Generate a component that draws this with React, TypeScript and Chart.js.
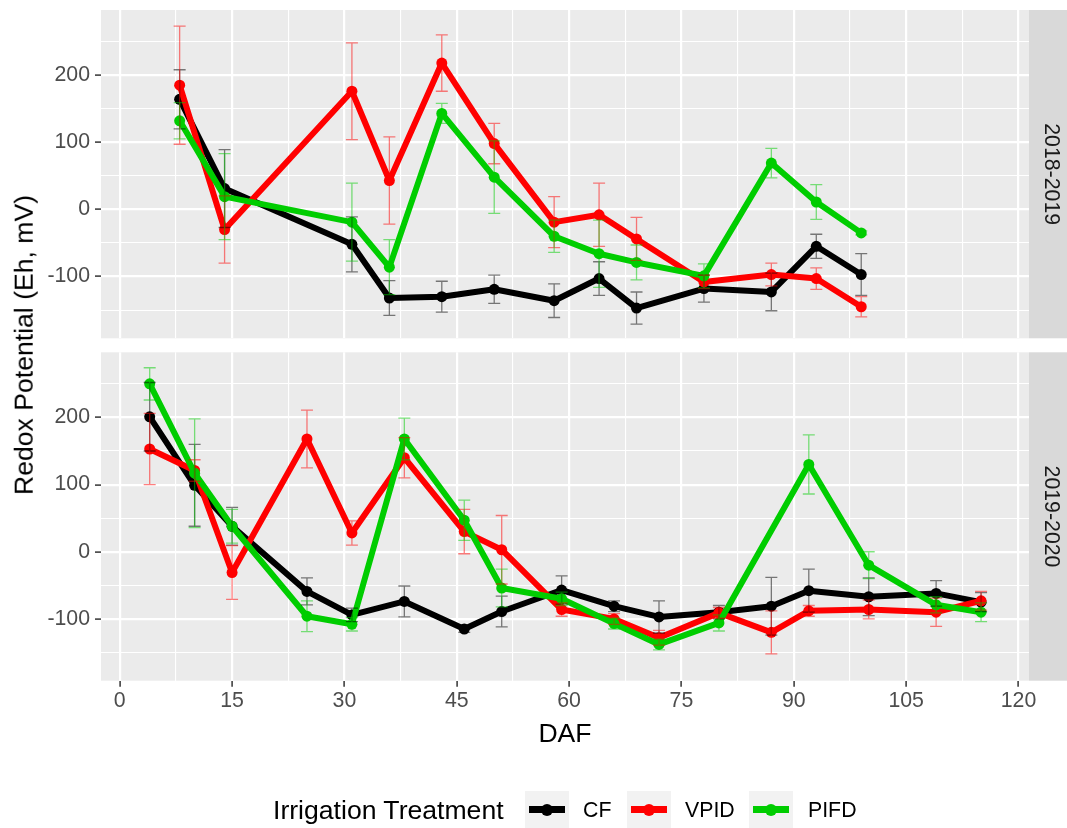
import React, { useEffect, useRef } from "react";
import { Chart, registerables } from "chart.js";

Chart.register(...registerables);

const FONT = "'Liberation Sans', Arial, sans-serif";

const treatments = ["CF", "VPID", "PIFD"];
const treatmentColors = ["#000000", "#FF0000", "#00CD00"];
const seasons = ["2018-2019", "2019-2020"];

// Season 2018-2019
const daf1819 = [8, 14, 31, 36, 43, 50, 58, 64, 69, 78, 87, 93, 99];
const cf1819 = [164, 31, -52, -132, -130, -119, -136, -103, -147, -118, -123, -55, -97];
const cf1819Err = [44, 58, 41, 26, 23, 21, 25, 25, 24, 20, 28, 18, 31];
const vpid1819 = [185, -30, 176, 43, 218, 98, -19, -8, -44, -108, -97, -103, -145];
const vpid1819Err = [88, 50, 72, 65, 42, 30, 38, 47, 32, 10, 17, 16, 15];
const pifd1819 = [132, 19, -19, -86, 143, 48, -40, -66, -79, -99, 69, 11, -35];
const pifd1819Err = [27, 64, 58, 41, 15, 54, 24, 50, 26, 18, 22, 26, 3];

// Season 2019-2020
const daf1920 = [4, 10, 15, 25, 31, 38, 46, 51, 59, 66, 72, 80, 87, 92, 100, 109, 115];
const cf1920 = [201, 99, 38, -59, -94, -74, -115, -89, -57, -81, -97, -90, -81, -58, -67, -62, -75];
const cf1920Err = [51, 61, 28, 20, 10, 23, 5, 23, 21, 8, 24, 10, 43, 32, 28, 19, 14];
const vpid1920 = [153, 121, -31, 168, 28, 140, 30, 3, -86, -100, -128, -91, -120, -88, -86, -90, -73];
const vpid1920Err = [53, 16, 40, 43, 18, 30, 33, 51, 10, 8, 11, 8, 32, 8, 14, 21, 14];
const pifd1920 = [250, 117, 38, -96, -108, 168, 47, -54, -70, -107, -138, -106, null, 130, -20, -79, -90];
const pifd1920Err = [24, 81, 25, 23, 10, 31, 30, 28, 10, 8, 8, 12, null, 44, 20, 12, 14];

const xMajorTicks = [0, 15, 30, 45, 60, 75, 90, 105, 120];
const xMinorTicks = [7.5, 22.5, 37.5, 52.5, 67.5, 82.5, 97.5, 112.5];
const yMajorTicks = [-100, 0, 100, 200];
const yMinorTicks = [-150, -50, 50, 150, 250];

const X_MIN = -2.5;
const X_MAX = 121.4;
const Y_MIN = -192;
const Y_MAX = 297;

type Series = { values: (number | null)[]; errors: (number | null)[] };
type PanelData = { season: string; daf: number[]; series: Series[] };

const panels: PanelData[] = [
  {
    season: seasons[0],
    daf: daf1819,
    series: [
      { values: cf1819, errors: cf1819Err },
      { values: vpid1819, errors: vpid1819Err },
      { values: pifd1819, errors: pifd1819Err },
    ],
  },
  {
    season: seasons[1],
    daf: daf1920,
    series: [
      { values: cf1920, errors: cf1920Err },
      { values: vpid1920, errors: vpid1920Err },
      { values: pifd1920, errors: pifd1920Err },
    ],
  },
];

const TICK_SIZE = 21.3;
const TITLE_SIZE = 26.6;

function makeChart(canvas: HTMLCanvasElement, panel: PanelData, isBottom: boolean) {
  const allX = [...xMajorTicks, ...xMinorTicks].sort((a, b) => a - b);
  const allY = [...yMajorTicks, ...yMinorTicks].sort((a, b) => a - b);

  const decor = {
    id: "panelDecor",
    beforeDraw(chart: any) {
      const { ctx, chartArea: a } = chart;
      ctx.save();
      ctx.fillStyle = "#EBEBEB";
      ctx.fillRect(a.left, a.top, a.right - a.left, a.bottom - a.top);
      ctx.fillStyle = "#D9D9D9";
      ctx.fillRect(a.right, a.top, chart.width - a.right, a.bottom - a.top);
      ctx.translate(1051, (a.top + a.bottom) / 2);
      ctx.rotate(Math.PI / 2);
      ctx.fillStyle = "#1A1A1A";
      ctx.font = `${TICK_SIZE}px ${FONT}`;
      ctx.textAlign = "center";
      ctx.textBaseline = "middle";
      ctx.fillText(panel.season, 0, 0);
      ctx.restore();
    },
    afterDatasetsDraw(chart: any) {
      const { ctx } = chart;
      const xs = chart.scales.x;
      const ys = chart.scales.y;
      const CAP = 6;
      ctx.save();
      ctx.lineWidth = 1.3;
      ctx.globalAlpha = 0.5;
      panel.series.forEach((s, si) => {
        ctx.strokeStyle = treatmentColors[si];
        panel.daf.forEach((d, i) => {
          const v = s.values[i];
          const e = s.errors[i];
          if (v == null || e == null) return;
          const x = xs.getPixelForValue(d);
          const y1 = ys.getPixelForValue(v + e);
          const y2 = ys.getPixelForValue(v - e);
          ctx.beginPath();
          ctx.moveTo(x, y1);
          ctx.lineTo(x, y2);
          ctx.moveTo(x - CAP, y1);
          ctx.lineTo(x + CAP, y1);
          ctx.moveTo(x - CAP, y2);
          ctx.lineTo(x + CAP, y2);
          ctx.stroke();
        });
      });
      ctx.restore();
    },
  };

  const datasets = panel.series.map((s, si) => ({
    label: treatments[si],
    data: panel.daf.map((d, i) => ({ x: d, y: s.values[i] })),
    borderColor: treatmentColors[si],
    backgroundColor: treatmentColors[si],
    pointBackgroundColor: treatmentColors[si],
    borderWidth: 6,
    pointRadius: 5.5,
    pointBorderWidth: 0,
    pointHoverRadius: 5.5,
    borderJoinStyle: "round",
    spanGaps: true,
    tension: 0,
    order: 3 - si,
  }));

  const majorX = (v: number) => xMajorTicks.includes(v);
  const majorY = (v: number) => yMajorTicks.includes(v);

  return new Chart(canvas, {
    type: "line",
    data: { datasets: datasets as any },
    plugins: [decor],
    options: {
      responsive: false,
      maintainAspectRatio: false,
      animation: false,
      events: [],
      layout: {
        padding: isBottom
          ? { left: 0, top: 352.3, right: 38, bottom: 47.3 }
          : { left: 0, top: 10, right: 38, bottom: 6.7 },
      },
      plugins: {
        legend: { display: false },
        tooltip: { enabled: false },
        title: { display: false },
      },
      scales: {
        x: {
          type: "linear",
          min: X_MIN,
          max: X_MAX,
          afterBuildTicks: (s: any) => {
            s.ticks = allX.map((v) => ({ value: v }));
          },
          afterFit: (s: any) => {
            s.height = isBottom ? 100 : 0;
            s.paddingLeft = 0;
            s.paddingRight = 0;
          },
          ticks: {
            display: isBottom,
            autoSkip: false,
            maxRotation: 0,
            minRotation: 0,
            padding: 2,
            color: "#4D4D4D",
            font: { family: FONT, size: TICK_SIZE },
            callback: (v: any) => (majorX(Number(v)) ? String(v) : ""),
          },
          grid: {
            color: "#FFFFFF",
            lineWidth: (ctx: any) => (ctx.tick && majorX(ctx.tick.value) ? 2.2 : 1.1),
            drawTicks: isBottom,
            tickLength: 6,
            tickWidth: 1.5,
            tickColor: (ctx: any) =>
              ctx.tick && majorX(ctx.tick.value) ? "#333333" : "rgba(0,0,0,0)",
          },
          border: { display: false },
          title: {
            display: isBottom,
            text: "DAF",
            color: "#000000",
            font: { family: FONT, size: TITLE_SIZE },
            padding: { top: 0, bottom: 29.7 },
          },
        },
        y: {
          type: "linear",
          min: Y_MIN,
          max: Y_MAX,
          afterBuildTicks: (s: any) => {
            s.ticks = allY.map((v) => ({ value: v }));
          },
          afterFit: (s: any) => {
            s.width = 101;
            s.paddingTop = 0;
            s.paddingBottom = 0;
          },
          ticks: {
            autoSkip: false,
            padding: 5,
            color: "#4D4D4D",
            font: { family: FONT, size: TICK_SIZE },
            callback: (v: any) => (majorY(Number(v)) ? String(v) : ""),
          },
          grid: {
            color: "#FFFFFF",
            lineWidth: (ctx: any) => (ctx.tick && majorY(ctx.tick.value) ? 2.2 : 1.1),
            drawTicks: true,
            tickLength: 6,
            tickWidth: 1.5,
            tickColor: (ctx: any) =>
              ctx.tick && majorY(ctx.tick.value) ? "#333333" : "rgba(0,0,0,0)",
          },
          border: { display: false },
        },
      },
    } as any,
  });
}

export default function App() {
  const topRef = useRef<HTMLCanvasElement>(null);
  const botRef = useRef<HTMLCanvasElement>(null);

  useEffect(() => {
    const charts: Chart[] = [];
    if (topRef.current) charts.push(makeChart(topRef.current, panels[0], false));
    if (botRef.current) charts.push(makeChart(botRef.current, panels[1], true));
    return () => charts.forEach((c) => c.destroy());
  }, []);

  const keyLefts = [525, 627, 749];
  const labelLefts = [583, 685, 808];

  return (
    <div
      style={{
        position: "absolute",
        left: 0,
        top: 0,
        width: 1067,
        height: 828,
        background: "#FFFFFF",
        overflow: "hidden",
        fontFamily: FONT,
      }}
    >
      <canvas
        ref={botRef}
        width={1067}
        height={828}
        style={{ position: "absolute", left: 0, top: 0, width: 1067, height: 828 }}
      />
      <canvas
        ref={topRef}
        width={1067}
        height={345}
        style={{ position: "absolute", left: 0, top: 0, width: 1067, height: 345 }}
      />
      <div
        style={{
          position: "absolute",
          left: 24,
          top: 345,
          transform: "translate(-50%, -50%) rotate(-90deg)",
          fontSize: TITLE_SIZE,
          lineHeight: 1,
          whiteSpace: "nowrap",
          color: "#000000",
        }}
      >
        Redox Potential (Eh, mV)
      </div>
      <div
        style={{
          position: "absolute",
          left: 273,
          top: 796.5,
          fontSize: TITLE_SIZE,
          lineHeight: 1,
          whiteSpace: "nowrap",
          color: "#000000",
        }}
      >
        Irrigation Treatment
      </div>
      {treatments.map((t, i) => (
        <React.Fragment key={t}>
          <div
            style={{
              position: "absolute",
              left: keyLefts[i],
              top: 791,
              width: 44,
              height: 37,
              background: "#F2F2F2",
            }}
          >
            <div
              style={{
                position: "absolute",
                left: 4,
                right: 4,
                top: 15.25,
                height: 6.5,
                background: treatmentColors[i],
              }}
            />
            <div
              style={{
                position: "absolute",
                left: 16,
                top: 12.5,
                width: 12,
                height: 12,
                borderRadius: "50%",
                background: treatmentColors[i],
              }}
            />
          </div>
          <div
            style={{
              position: "absolute",
              left: labelLefts[i],
              top: 800,
              fontSize: TICK_SIZE,
              lineHeight: 1,
              whiteSpace: "nowrap",
              color: "#000000",
            }}
          >
            {t}
          </div>
        </React.Fragment>
      ))}
    </div>
  );
}
